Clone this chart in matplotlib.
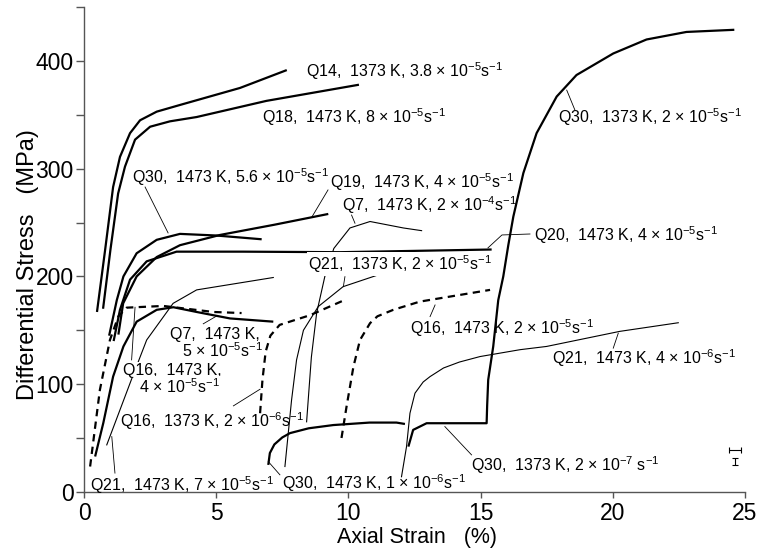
import matplotlib
matplotlib.use("Agg")
import matplotlib.pyplot as plt
from matplotlib.ticker import MultipleLocator

plt.rcParams['font.family'] = ['Liberation Sans', 'DejaVu Sans']
plt.rcParams['mathtext.fontset'] = 'custom'
plt.rcParams['mathtext.rm'] = 'Liberation Sans'
plt.rcParams['mathtext.it'] = 'Liberation Sans:italic'
plt.rcParams['mathtext.bf'] = 'Liberation Sans:bold'

# axial strain (%) / differential stress (MPa)
q14_strain = [0.49, 0.8, 1.1, 1.36, 1.74, 2.12, 2.75, 3.6, 5.9, 7.67]
q14_stress = [167, 225, 283, 311, 333, 345, 353, 359, 375, 391.6]

q18_strain = [0.72, 1.0, 1.29, 1.55, 1.93, 2.5, 3.25, 4.26, 6.9, 10.4]
q18_stress = [170, 225, 277, 302, 327, 339, 344, 348, 363, 378]

q30a_strain = [0.95, 1.24, 1.49, 1.99, 2.75, 3.63, 5.0, 6.72]
q30a_stress = [145, 178, 200, 221.5, 234, 239.5, 238, 234.5]

q19_strain = [1.3, 1.48, 1.99, 2.75, 3.63, 5.14, 7.2, 9.24]
q19_stress = [146, 175, 200, 218, 229, 238.5, 248, 258]

q20_strain = [1.12, 1.36, 1.74, 2.37, 3.5, 6.0, 9.7, 12.0, 15.42]
q20_stress = [140, 169, 197, 214, 223, 223, 222.5, 223.5, 225]

q7a_strain = [0.42, 0.73, 1.1, 1.49, 1.99, 2.75, 3.38, 4.26, 5.52, 7.16]
q7a_stress = [32.8, 64, 107, 135, 158, 169, 171.4, 167, 161, 158]

q16a_strain = [0.23, 0.6, 0.98, 1.3, 1.61, 3.0, 4.89, 5.96]
q16a_stress = [23.5, 94.7, 141, 163, 171, 172.6, 167, 166]

q21a_strain = [0.86, 1.86, 2.37, 3.37, 4.26, 7.16]
q21a_stress = [43.6, 108.6, 141, 175, 187.5, 199]

q16b_strain = [6.66, 6.75, 6.87, 7.05, 7.4, 8.55, 9.8]
q16b_stress = [73, 104, 130, 145, 155, 164, 177.5]

q16c_strain = [9.74, 9.93, 10.19, 10.44, 10.82, 11.1, 11.7, 12.7, 15.36]
q16c_stress = [50, 79, 116, 141, 156.6, 163, 169, 176.6, 187.5]

q7b_strain = [8.42, 8.6, 8.8, 9.11, 9.45, 10.06, 10.82, 12.08, 12.77]
q7b_stress = [65, 125, 166, 200, 226, 245, 251, 245, 242.5]

q21b_strain = [7.6, 7.85, 8.04, 8.3, 8.86, 9.8, 11.32]
q21b_stress = [23.5, 85, 122.5, 150, 172, 190.5, 203]

q30b_strain = [6.97, 7.03, 7.2, 7.5, 7.79, 8.5, 9.43, 10.8, 11.82, 12.14]
q30b_stress = [25, 36, 44, 50.5, 54.5, 59, 62, 64.3, 64.3, 63]

q30c_strain = [12.27, 12.45, 12.96, 14.6, 15.23, 15.25, 15.29, 15.48, 15.67,
               15.86, 16.05, 16.24, 16.62, 17.12, 17.88, 18.63, 20.02, 21.28,
               22.79, 24.6]
q30c_stress = [42, 57.5, 63.7, 63.7, 63.7, 80, 104, 135, 178, 200, 229, 255.5,
               296, 333, 367, 387, 407, 420, 427, 429]

q21c_strain = [12.01, 12.2, 12.33, 12.52, 12.83, 13.09, 13.6, 14.2, 14.98,
               16.5, 17.5, 20.27, 22.48]
q21c_stress = [14, 42, 73, 91.6, 102, 107, 115, 120.5, 125.6, 132, 135, 149,
               157]

err_strain = [24.62, 24.62]
err_stress = [39, 28]
err_x = [0.22, 0]
err_y = [0, 3.4]

fig = plt.figure(figsize=(7.57, 5.52), dpi=100)
ax = fig.add_axes([0.111, 0.109, 0.873, 0.878])

thick = dict(color='black', lw=1.6, solid_capstyle='butt')
thin = dict(color='black', lw=0.8)
dashed = dict(color='black', lw=1.6, dashes=(3.3, 2.4))

ax.plot(q14_strain, q14_stress, **thick)
ax.plot(q18_strain, q18_stress, **thick)
ax.plot(q30a_strain, q30a_stress, **thick)
ax.plot(q19_strain, q19_stress, **thick)
ax.plot(q20_strain, q20_stress, **thick)
ax.plot(q7a_strain, q7a_stress, **thick)
ax.plot(q16a_strain, q16a_stress, **dashed)
ax.plot(q21a_strain, q21a_stress, **thin)
ax.plot(q16b_strain, q16b_stress, **dashed)
ax.plot(q16c_strain, q16c_stress, **dashed)
ax.plot(q7b_strain, q7b_stress, **thin)
ax.plot(q21b_strain, q21b_stress, **thin)
ax.plot(q30b_strain, q30b_stress, **thick)
ax.plot(q30c_strain, q30c_stress, **thick)
ax.plot(q21c_strain, q21c_stress, **thin)

for xs, ys, dx, dy in zip(err_strain, err_stress, err_x, err_y):
    ax.errorbar(xs, ys, xerr=dx or None, yerr=dy or None, color='black',
                lw=0.8, capsize=2.2, capthick=0.8)

fs = 11.5
white = dict(facecolor='white', edgecolor='none', pad=0.6)


def label(x, y, s, box=False):
    ax.text(x, y, s, fontsize=fs, ha='left', va='center', zorder=5,
            bbox=white if box else None)


def leader(xs, ys):
    ax.plot(xs, ys, color='black', lw=0.6, zorder=4)


label(8.4, 391, r"Q14,  1373 K, 3.8 × 10$^{-5}$s$^{-1}$")
label(6.72, 348, r"Q18,  1473 K, 8 × 10$^{-5}$s$^{-1}$")
label(1.8, 292.6, r"Q30,  1473 K, 5.6 × 10$^{-5}$s$^{-1}$")
label(9.3, 288, r"Q19,  1473 K, 4 × 10$^{-5}$s$^{-1}$")
label(9.75, 266, r"Q7,  1473 K, 2 × 10$^{-4}$s$^{-1}$")
label(17.03, 238.5, r"Q20,  1473 K, 4 × 10$^{-5}$s$^{-1}$")
label(8.48, 211.5, r"Q21,  1373 K, 2 × 10$^{-5}$s$^{-1}$", box=True)
label(12.33, 152, r"Q16,  1473 K, 2 × 10$^{-5}$s$^{-1}$")
label(17.69, 124, r"Q21,  1473 K, 4 × 10$^{-6}$s$^{-1}$")
label(3.25, 146.5, r"Q7,  1473 K,")
label(3.69, 131, r"5 × 10$^{-5}$s$^{-1}$")
label(1.49, 113, r"Q16,  1473 K,", box=True)
label(2.09, 97.7, r"4 × 10$^{-5}$s$^{-1}$", box=True)
label(1.36, 65.3, r"Q16,  1373 K, 2 × 10$^{-6}$s$^{-1}$")
label(0.23, 6.5, r"Q21,  1473 K, 7 × 10$^{-5}$s$^{-1}$")
label(7.48, 8, r"Q30,  1473 K, 1 × 10$^{-6}$s$^{-1}$")
label(14.64, 25, r"Q30,  1373 K, 2 × 10$^{-7}$ s$^{-1}$")
label(17.94, 348.3, r"Q30,  1373 K, 2 × 10$^{-5}$s$^{-1}$")

leader([2.31, 3.18], [283, 240.4])
leader([9.23, 8.62], [280.3, 255.2])
leader([10.12, 10.25], [257, 249.4])
leader([16.87, 15.81, 15.28], [239.4, 238.5, 226.5])
leader([9.87, 9.81], [199.8, 190.5])
leader([13.09, 13.28], [162.7, 173.5])
leader([20.02, 20.21], [133.4, 147.3])
leader([4.51, 5.02], [156, 163.3])
leader([1.8, 1.93], [122.5, 171.4])
leader([5.65, 6.66], [79.8, 95.3])
leader([1.17, 1.05], [17.4, 51.3])
leader([7.41, 6.97], [15.8, 28.1])
leader([14.66, 13.65], [34.3, 60.6])
leader([18.57, 18.26], [354.5, 373])

ax.set_xlim(0, 25)
ax.set_ylim(0, 450)
ax.xaxis.set_major_locator(MultipleLocator(5))
ax.yaxis.set_major_locator(MultipleLocator(100))
ax.yaxis.set_minor_locator(MultipleLocator(50))
for side in ('top', 'right'):
    ax.spines[side].set_visible(False)
for side in ('left', 'bottom'):
    ax.spines[side].set_color('#555555')
    ax.spines[side].set_linewidth(1.0)
ax.tick_params(which='both', direction='out', color='#555555', width=1.0,
               labelsize=16.5, pad=2)
ax.tick_params(axis='y', which='both', length=5.5)
ax.tick_params(axis='x', length=4.5, pad=3)

ax.set_xlabel("Axial Strain   (%)", fontsize=15.5, va='center')
ax.set_ylabel("Differential Stress   (MPa)", fontsize=17, va='center')
ax.xaxis.set_label_coords(0.5045, -0.095)
ax.yaxis.set_label_coords(-0.085, 0.468)

fig.savefig("out.png", dpi=100)
